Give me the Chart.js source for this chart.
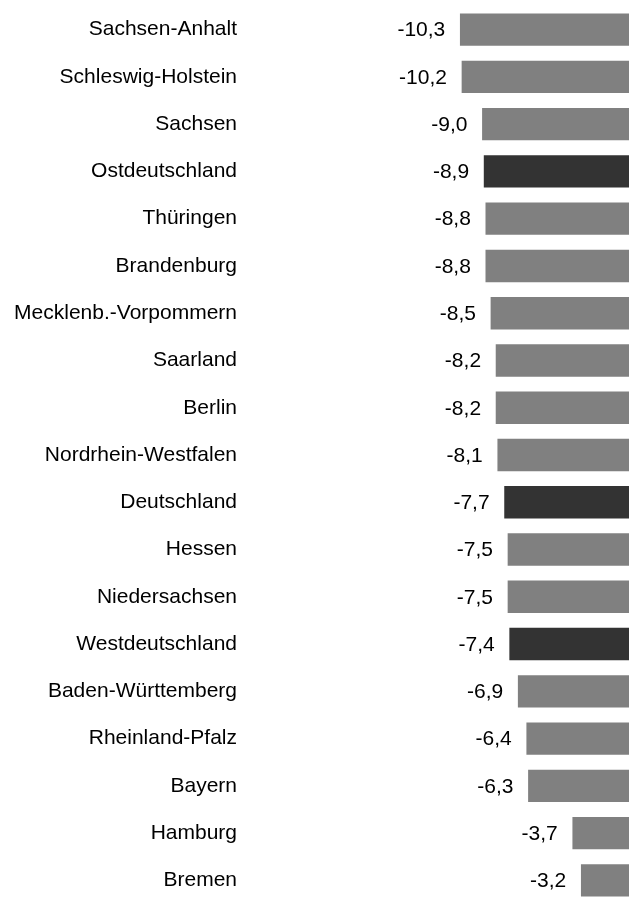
<!DOCTYPE html>
<html>
<head>
<meta charset="utf-8">
<script src="https://cdn.jsdelivr.net/npm/chart.js@4/dist/chart.umd.min.js"></script>
<style>
  html, body { margin: 0; padding: 0; background: #ffffff; overflow: hidden; }
  #wrap { width: 629px; height: 899px; overflow: hidden; }
  canvas { display: block; }
</style>
</head>
<body>
<div id="wrap"><canvas id="c" width="629" height="904"></canvas></div>
<script>
const categories = [
  "Sachsen-Anhalt", "Schleswig-Holstein", "Sachsen", "Ostdeutschland", "Thüringen",
  "Brandenburg", "Mecklenb.-Vorpommern", "Saarland", "Berlin", "Nordrhein-Westfalen",
  "Deutschland", "Hessen", "Niedersachsen", "Westdeutschland", "Baden-Württemberg",
  "Rheinland-Pfalz", "Bayern", "Hamburg", "Bremen"
];
const values = [
  -10.3, -10.2, -9.0, -8.9, -8.8,
  -8.8, -8.5, -8.2, -8.2, -8.1,
  -7.7, -7.5, -7.5, -7.4, -6.9,
  -6.4, -6.3, -3.7, -3.2
];
const highlighted = ["Ostdeutschland", "Deutschland", "Westdeutschland"];

const GRAY = "#808080";
const DARK = "#333333";
const FONT = "'Liberation Sans', Arial, Helvetica, sans-serif";

const barColors = categories.map(c => highlighted.includes(c) ? DARK : GRAY);

const valueLabels = {
  id: "valueLabels",
  afterDatasetsDraw(chart) {
    const ctx = chart.ctx;
    const meta = chart.getDatasetMeta(0);
    ctx.save();
    ctx.font = "21px " + FONT;
    ctx.fillStyle = "#000000";
    ctx.textAlign = "right";
    ctx.textBaseline = "middle";
    meta.data.forEach((bar, i) => {
      const txt = values[i].toFixed(1).replace(".", ",");
      ctx.fillText(txt, bar.x - 15, bar.y + 1);
    });
    ctx.restore();
  }
};

new Chart(document.getElementById("c"), {
  type: "bar",
  data: {
    labels: categories,
    datasets: [{
      data: values,
      backgroundColor: barColors,
      borderWidth: 0,
      barThickness: 31.7
    }]
  },
  options: {
    indexAxis: "y",
    responsive: false,
    devicePixelRatio: 1,
    animation: false,
    layout: { padding: { top: 6, bottom: 0, left: 0, right: 0 } },
    plugins: {
      legend: { display: false },
      tooltip: { enabled: false },
      title: { display: false }
    },
    scales: {
      x: {
        display: false,
        min: -22.93,
        max: -0.40
      },
      y: {
        grid: { display: false, drawTicks: false },
        border: { display: false },
        ticks: {
          autoSkip: false,
          padding: 8,
          color: "#000000",
          font: { family: FONT, size: 21 }
        },
        afterFit(scale) {
          scale.width = 245;
          scale.paddingTop = 0;
          scale.paddingBottom = 0;
        }
      }
    }
  },
  plugins: [valueLabels]
});
</script>
</body>
</html>
